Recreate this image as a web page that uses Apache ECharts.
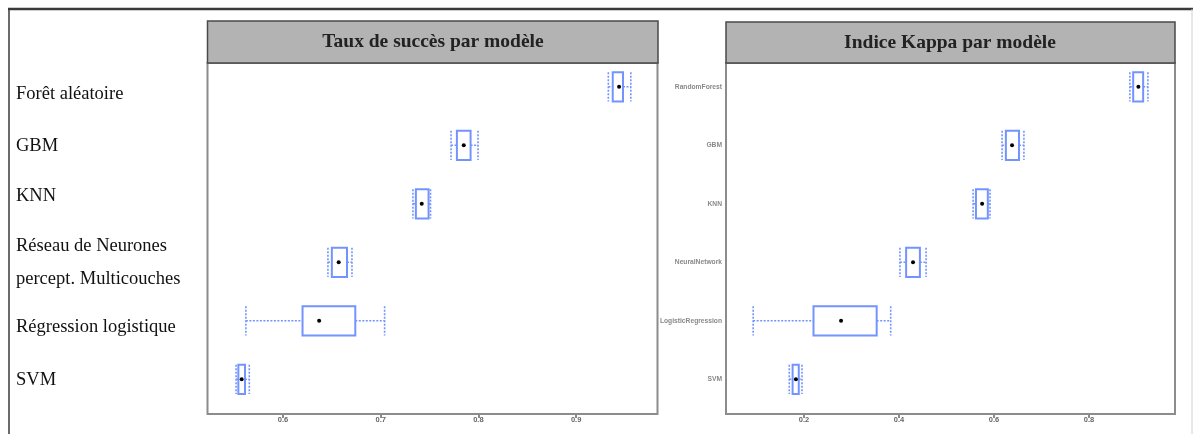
<!DOCTYPE html>
<html>
<head>
<meta charset="utf-8">
<script src="https://cdn.jsdelivr.net/npm/echarts@6/dist/echarts.min.js"></script>
<style>
html,body{margin:0;padding:0;background:#fff;}
#chart{width:1193px;height:434px;}
</style>
</head>
<body>
<div id="chart"></div>
<script>
// Categories (top to bottom)
const categories = ['RandomForest', 'GBM', 'KNN', 'NeuralNetwork', 'LogisticRegression', 'SVM'];
const frenchLabels = ['Forêt aléatoire', 'GBM', 'KNN', 'Réseau de Neurones\npercept. Multicouches', 'Régression logistique', 'SVM'];
const titles = ['Taux de succès par modèle', 'Indice Kappa par modèle'];

// Accuracy (taux de succès) box statistics
const accMin = [0.933, 0.772, 0.733, 0.646, 0.562, 0.552];
const accQ1  = [0.9375, 0.778, 0.736, 0.650, 0.620, 0.5543];
const accMed = [0.944, 0.785, 0.742, 0.657, 0.637, 0.5577];
const accQ3  = [0.948, 0.792, 0.749, 0.6655, 0.674, 0.5611];
const accMax = [0.956, 0.7996, 0.751, 0.6706, 0.704, 0.5655];

// Kappa box statistics
const kapMin = [0.886, 0.617, 0.556, 0.402, 0.093, 0.169];
const kapQ1  = [0.893, 0.625, 0.562, 0.415, 0.220, 0.176];
const kapMed = [0.904, 0.638, 0.575, 0.4295, 0.278, 0.183];
const kapQ3  = [0.914, 0.6526, 0.587, 0.444, 0.353, 0.189];
const kapMax = [0.924, 0.663, 0.5916, 0.457, 0.3825, 0.1958];

const accTicks = [0.6, 0.7, 0.8, 0.9];
const kapTicks = [0.2, 0.4, 0.6, 0.8];

const BLUE = '#7394ff';
const SERIF = '"Liberation Serif", "Times New Roman", serif';

// vertical nudges of the French labels (px, + = down)
const labelShift = [7, 1, -8, 0, 6, 1];

function rows(mn, q1, md, q3, mx) {
  return categories.map((c, i) => [i, mn[i], q1[i], md[i], q3[i], mx[i]]);
}

function renderBox(params, api) {
  const idx = api.value(0);
  const pMin = api.coord([api.value(1), idx]);
  const pQ1 = api.coord([api.value(2), idx]);
  const pMed = api.coord([api.value(3), idx]);
  const pQ3 = api.coord([api.value(4), idx]);
  const pMax = api.coord([api.value(5), idx]);
  const band = api.size([0, 1])[1];
  const h = band * 0.25;
  const y = pMed[1];
  const dash = {stroke: BLUE, lineWidth: 1.6, lineDash: [2, 1.5], fill: null};
  return {
    type: 'group',
    children: [
      {type: 'line', shape: {x1: pMin[0], y1: y, x2: pQ1[0], y2: y}, style: dash},
      {type: 'line', shape: {x1: pQ3[0], y1: y, x2: pMax[0], y2: y}, style: dash},
      {type: 'line', shape: {x1: pMin[0], y1: y - h, x2: pMin[0], y2: y + h}, style: dash},
      {type: 'line', shape: {x1: pMax[0], y1: y - h, x2: pMax[0], y2: y + h}, style: dash},
      {type: 'rect', shape: {x: pQ1[0], y: y - h, width: pQ3[0] - pQ1[0], height: 2 * h},
        style: {stroke: BLUE, lineWidth: 2, fill: null}},
      {type: 'circle', shape: {cx: pMed[0], cy: y, r: 2}, style: {fill: '#000'}}
    ]
  };
}

const chart = echarts.init(document.getElementById('chart'));

const GT = 57.5, GH = 351;

function xAxisCfg(gridIndex, min, max, ticks) {
  return {
    type: 'value', gridIndex: gridIndex, min: min, max: max, offset: 5.5,
    axisLine: {show: false},
    axisTick: {show: true, length: 4, customValues: ticks, lineStyle: {color: '#666', width: 1.5}},
    axisLabel: {customValues: ticks, fontSize: 7.5, fontWeight: 'bold', color: '#666', margin: 2,
      fontFamily: 'Liberation Sans'},
    splitLine: {show: false}
  };
}

const richShift = {};
labelShift.forEach((d, i) => {
  richShift['s' + i] = {
    fontFamily: SERIF, fontSize: 18.5, color: '#111',
    padding: d >= 0 ? [2 * d, 0, 0, 0] : [0, 0, -2 * d, 0]
  };
});

const option = {
  backgroundColor: '#fff',
  animation: false,
  grid: [
    {left: 207, width: 450, top: GT, height: GH, show: false},
    {left: 726, width: 449, top: GT, height: GH, show: false}
  ],
  xAxis: [
    xAxisCfg(0, 0.6 - 76 / 977, 0.6 - 76 / 977 + 450 / 977, accTicks),
    xAxisCfg(1, 0.2 - 78 / 475, 0.2 - 78 / 475 + 449 / 475, kapTicks)
  ],
  yAxis: [
    {
      type: 'category', gridIndex: 0, data: frenchLabels, inverse: true,
      axisLine: {show: false}, axisTick: {show: false}, splitLine: {show: false},
      axisLabel: {align: 'left', margin: 191, fontFamily: SERIF, fontSize: 18.5,
        color: '#111', lineHeight: 33,
        formatter: function (v, i) {
          if (v.indexOf('\n') >= 0 || !labelShift[i]) return v;
          return '{s' + i + '|' + v + '}';
        },
        rich: richShift}
    },
    {
      type: 'category', gridIndex: 1, data: categories, inverse: true,
      axisLine: {show: false}, axisTick: {show: false}, splitLine: {show: false},
      axisLabel: {margin: 4, fontSize: 6.7, fontWeight: 'bold', color: '#888',
        fontFamily: 'Liberation Sans'}
    }
  ],
  series: [
    {type: 'custom', xAxisIndex: 0, yAxisIndex: 0, renderItem: renderBox,
      encode: {x: [1, 2, 3, 4, 5], y: 0}, data: rows(accMin, accQ1, accMed, accQ3, accMax), z: 5},
    {type: 'custom', xAxisIndex: 1, yAxisIndex: 1, renderItem: renderBox,
      encode: {x: [1, 2, 3, 4, 5], y: 0}, data: rows(kapMin, kapQ1, kapMed, kapQ3, kapMax), z: 5}
  ],
  graphic: [
    // outer border
    {type: 'line', shape: {x1: 8, y1: 9, x2: 1193, y2: 9}, style: {stroke: '#3a3a3a', lineWidth: 2.5}, z: 1},
    {type: 'line', shape: {x1: 9, y1: 9, x2: 9, y2: 434}, style: {stroke: '#3a3a3a', lineWidth: 1.5}, z: 1},
    {type: 'line', shape: {x1: 1192, y1: 9, x2: 1192, y2: 434}, style: {stroke: '#d0d0d0', lineWidth: 1}, z: 1},
    // panel frames
    {type: 'rect', shape: {x: 207.5, y: 63, width: 450, height: 351},
      style: {stroke: '#8c8c8c', lineWidth: 2, fill: null}, z: 1},
    {type: 'rect', shape: {x: 726, y: 63, width: 449, height: 351},
      style: {stroke: '#8c8c8c', lineWidth: 2, fill: null}, z: 1},
    // headers
    {type: 'rect', shape: {x: 207.5, y: 21, width: 450.5, height: 42},
      style: {fill: '#b3b3b3', stroke: '#4a4a4a', lineWidth: 1.5}, z: 2},
    {type: 'rect', shape: {x: 726, y: 22, width: 449, height: 41},
      style: {fill: '#b3b3b3', stroke: '#4a4a4a', lineWidth: 1.5}, z: 2},
    {type: 'text', x: 433, y: 42, z: 3,
      style: {text: titles[0], font: 'bold 19.5px "Liberation Serif"', fill: '#222',
        textAlign: 'center', textVerticalAlign: 'middle'}},
    {type: 'text', x: 950, y: 42.5, z: 3,
      style: {text: titles[1], font: 'bold 19.5px "Liberation Serif"', fill: '#222',
        textAlign: 'center', textVerticalAlign: 'middle'}}
  ]
};
chart.setOption(option);
</script>
</body>
</html>
